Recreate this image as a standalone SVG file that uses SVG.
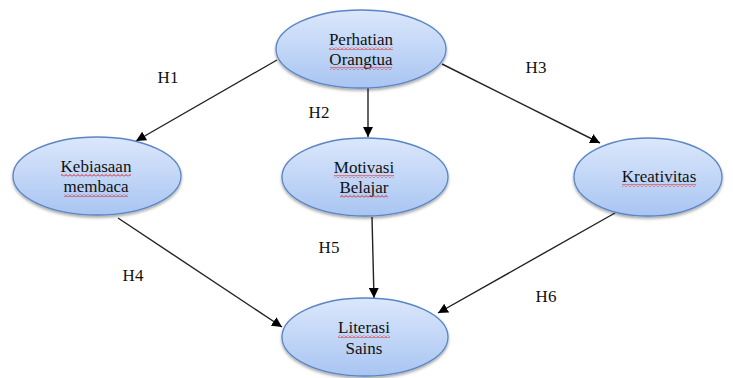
<svg xmlns="http://www.w3.org/2000/svg" width="733" height="378" viewBox="0 0 733 378">
<style>
.node ellipse{fill:url(#g);stroke:#5a86c5;stroke-width:1.3;filter:url(#sh)}
text{font-family:'Liberation Serif','Tinos','Times New Roman','DejaVu Serif',serif;font-size:17px;fill:#111;text-anchor:middle}
.edge{stroke:#222;stroke-width:1.4;fill:none;marker-end:url(#ah)}
.sq{fill:url(#wave)}
</style>
<defs>
<linearGradient id="g" x1="0" y1="0" x2="0" y2="1">
<stop offset="0" stop-color="#dbe7fb"/>
<stop offset="1" stop-color="#a9c5f2"/>
</linearGradient>
<filter id="sh" x="-10%" y="-10%" width="120%" height="130%">
<feGaussianBlur in="SourceAlpha" stdDeviation="1.5"/>
<feOffset dx="0" dy="2" result="b"/>
<feComponentTransfer><feFuncA type="linear" slope="0.35"/></feComponentTransfer>
<feMerge><feMergeNode/><feMergeNode in="SourceGraphic"/></feMerge>
</filter>
<marker id="ah" viewBox="0 0 10 10" refX="10" refY="5" markerWidth="10" markerHeight="10" markerUnits="userSpaceOnUse" orient="auto">
<path d="M0,0 L10,5 L0,10 Z" fill="#000"/>
</marker>
<pattern id="wave" width="4" height="3" patternUnits="userSpaceOnUse">
<path d="M0,2.5 L2,0.5 L4,2.5" stroke="#e01010" stroke-width="0.9" fill="none"/>
</pattern>
</defs>
<g id="connectors">
<line class="edge" x1="277" y1="60" x2="136" y2="141"/>
<line class="edge" x1="368" y1="88" x2="368" y2="137"/>
<line class="edge" x1="442" y1="64" x2="600" y2="143"/>
<line class="edge" x1="118" y1="218" x2="282" y2="327"/>
<line class="edge" x1="372" y1="217" x2="374" y2="298"/>
<line class="edge" x1="615" y1="213" x2="438" y2="313"/>
<text x="168" y="83">H1</text>
<text x="319" y="118">H2</text>
<text x="536" y="73">H3</text>
<text x="133" y="281">H4</text>
<text x="329" y="253">H5</text>
<text x="546" y="302">H6</text>
</g>
<g id="perhatian" class="node">
<ellipse cx="361" cy="49" rx="85" ry="39"/>
<text x="361" y="45">Perhatian</text>
<text x="361" y="65">Orangtua</text>
<rect class="sq" x="329" y="47" width="64" height="3"/>
<rect class="sq" x="330" y="67" width="62" height="3"/>
</g>
<g id="kebiasaan" class="node">
<ellipse cx="97" cy="176" rx="84" ry="39"/>
<text x="96" y="172">Kebiasaan</text>
<text x="96" y="192">membaca</text>
<rect class="sq" x="61" y="174" width="70" height="3"/>
<rect class="sq" x="64" y="194" width="64" height="3"/>
</g>
<g id="motivasi" class="node">
<ellipse cx="365" cy="177" rx="83" ry="39"/>
<text x="364" y="173">Motivasi</text>
<text x="364" y="193">Belajar</text>
<rect class="sq" x="334" y="175" width="60" height="3"/>
<rect class="sq" x="340" y="195" width="48" height="3"/>
</g>
<g id="kreativitas" class="node">
<ellipse cx="648" cy="177" rx="74" ry="39"/>
<text x="659" y="182">Kreativitas</text>
<rect class="sq" x="622" y="184" width="74" height="3"/>
</g>
<g id="literasi" class="node">
<ellipse cx="365" cy="337" rx="83" ry="39"/>
<text x="364" y="333">Literasi</text>
<text x="364" y="354">Sains</text>
<rect class="sq" x="338" y="335" width="52" height="3"/>
</g>
</svg>
